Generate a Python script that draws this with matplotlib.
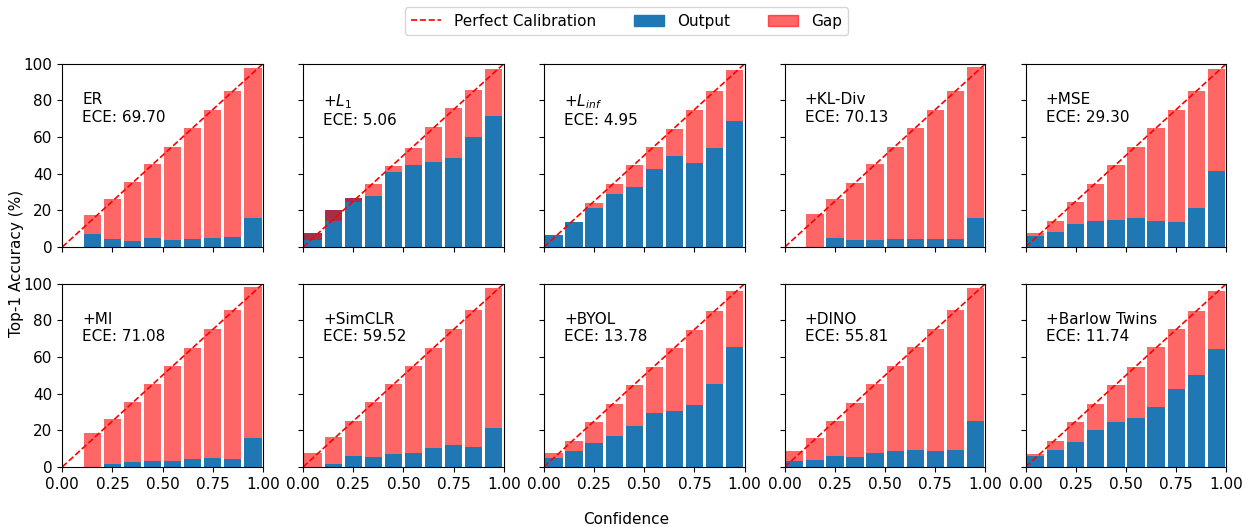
import numpy as np
import matplotlib
matplotlib.use('Agg')
import matplotlib.pyplot as plt
from matplotlib.lines import Line2D
from matplotlib.patches import Patch

# nombres de los metodos y su ECE
metodos = ['ER', '+$L_1$', '+$L_{inf}$', '+KL-Div', '+MSE',
           '+MI', '+SimCLR', '+BYOL', '+DINO', '+Barlow Twins']
ece = [69.70, 5.06, 4.95, 70.13, 29.30, 71.08, 59.52, 13.78, 55.81, 11.74]

# centros de los 10 bins de confianza
centros = [0.05, 0.15, 0.25, 0.35, 0.45, 0.55, 0.65, 0.75, 0.85, 0.95]

# precision (%) por bin
acc_er = [0.0, 7.3, 4.5, 3.5, 5.1, 4.0, 4.5, 5.1, 5.6, 16.0]
acc_l1 = [7.6, 20.0, 26.9, 28.0, 40.7, 44.9, 46.5, 48.7, 60.0, 71.6]
acc_linf = [6.4, 13.5, 21.3, 28.9, 32.9, 42.5, 49.8, 45.8, 54.2, 68.5]
acc_kl = [0.0, 0.0, 5.1, 4.0, 4.0, 4.5, 4.5, 4.5, 4.5, 16.0]
acc_mse = [6.2, 8.2, 12.7, 14.4, 14.9, 16.0, 14.4, 13.8, 21.5, 41.5]
acc_mi = [0.0, 0.0, 1.8, 2.9, 3.5, 3.5, 4.5, 5.1, 4.5, 15.8]
acc_simclr = [0.0, 1.8, 6.0, 5.6, 7.1, 7.8, 10.4, 12.0, 11.1, 21.3]
acc_byol = [5.1, 8.5, 13.3, 17.1, 22.5, 29.6, 30.7, 34.0, 45.5, 65.5]
acc_dino = [3.5, 4.0, 6.0, 5.6, 7.8, 8.9, 9.3, 8.9, 9.3, 25.3]
acc_barlow = [5.8, 9.3, 13.8, 20.4, 24.5, 26.5, 32.9, 42.7, 50.2, 64.4]

# confianza media (%) por bin
conf_er = [0.0, 17.6, 26.4, 35.6, 45.5, 54.7, 65.1, 74.9, 85.3, 97.8]
conf_l1 = [4.0, 14.0, 24.4, 34.5, 44.4, 54.2, 65.3, 75.6, 85.5, 97.3]
conf_linf = [6.7, 13.8, 24.2, 34.5, 44.9, 54.7, 64.5, 74.9, 85.3, 96.7]
conf_kl = [0.0, 18.2, 26.4, 35.1, 45.5, 54.7, 65.1, 74.9, 85.3, 98.4]
conf_mse = [7.8, 14.4, 24.7, 34.5, 44.9, 54.7, 65.1, 74.9, 85.3, 97.3]
conf_mi = [0.0, 18.5, 26.2, 35.5, 45.3, 55.1, 64.9, 75.3, 85.6, 98.2]
conf_simclr = [7.8, 16.4, 25.1, 35.5, 45.3, 55.1, 64.9, 75.3, 85.6, 97.6]
conf_byol = [7.8, 14.2, 24.5, 34.4, 44.7, 54.5, 64.9, 74.7, 85.1, 96.0]
conf_dino = [8.7, 15.8, 25.1, 34.9, 45.3, 55.1, 65.5, 75.3, 85.6, 97.6]
conf_barlow = [7.3, 14.2, 24.5, 34.4, 44.7, 54.5, 65.5, 75.3, 85.1, 96.0]

accs = [acc_er, acc_l1, acc_linf, acc_kl, acc_mse,
        acc_mi, acc_simclr, acc_byol, acc_dino, acc_barlow]
confs = [conf_er, conf_l1, conf_linf, conf_kl, conf_mse,
         conf_mi, conf_simclr, conf_byol, conf_dino, conf_barlow]

plt.rcParams['font.size'] = 11

fig, axes = plt.subplots(2, 5, figsize=(12.45, 5.27), dpi=100, sharex=True, sharey=True)
fig.subplots_adjust(left=0.05, right=0.985, bottom=0.114, top=0.879, wspace=0.2, hspace=0.2)

for i, ax in enumerate(axes.flat):
    acc = np.array(accs[i])
    conf = np.array(confs[i])
    # barras de salida y de diferencia
    ax.bar(centros, acc, width=0.086, color='#1f77b4')
    ax.bar(centros, conf - acc, bottom=acc, width=0.086, color='red', alpha=0.6)
    ax.plot([0, 1], [0, 100], 'r--', linewidth=1.2)
    ax.set_xlim(0, 1)
    ax.set_ylim(0, 100)
    ax.set_xticks([0, 0.25, 0.5, 0.75, 1.0])
    ax.set_yticks([0, 20, 40, 60, 80, 100])
    ax.text(0.1, 0.845, metodos[i] + '\nECE: %.2f' % ece[i], transform=ax.transAxes,
            va='top', ha='left', fontsize=11)

# leyenda comun
manejadores = [Line2D([0], [0], color='red', linestyle='--', linewidth=1.2),
               Patch(color='#1f77b4'), Patch(color='red', alpha=0.6)]
fig.legend(manejadores, ['Perfect Calibration', 'Output', 'Gap'], loc='center',
           bbox_to_anchor=(0.503, 0.96), ncol=3, fontsize=11, columnspacing=2.5)

fig.text(0.503, 0.0, 'Confidence', ha='center', va='bottom', fontsize=11)
fig.text(0.0135, 0.5, 'Top-1 Accuracy (%)', rotation=90, ha='center', va='center', fontsize=11)

plt.savefig('out.png', dpi=100)
